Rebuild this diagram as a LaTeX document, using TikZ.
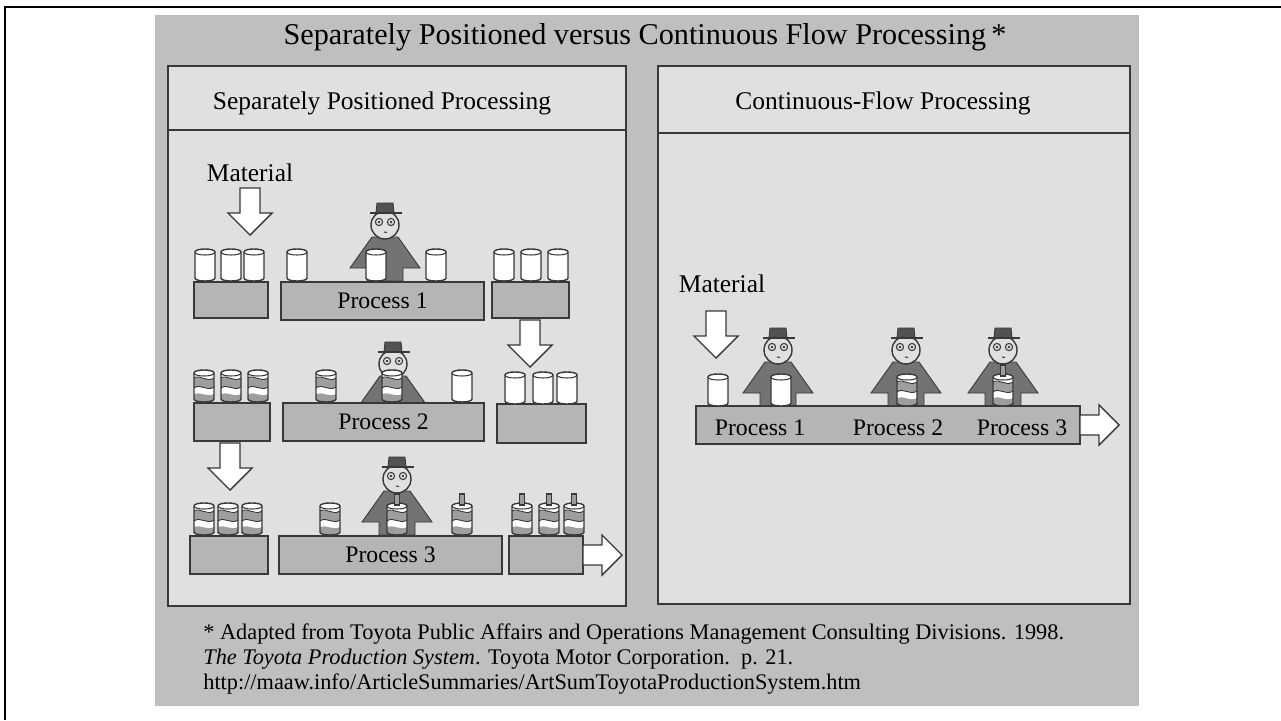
\documentclass[tikz,border=0pt]{standalone}
\usepackage{fontspec}
\setmainfont{Liberation Serif}
\usetikzlibrary{positioning, calc}

\definecolor{panelgray}{gray}{0.75}
\definecolor{lightgray}{gray}{0.88}
\definecolor{benchgray}{gray}{0.71}
\definecolor{edgegray}{gray}{0.22}
\definecolor{coatgray}{gray}{0.45}
\definecolor{hatgray}{gray}{0.32}
\definecolor{bandgray}{gray}{0.62}

% outline of a can, origin at the middle of its base
\newcommand\canoutline{(-10,-3) -- (-10,-29) .. controls (-10,-33) and (10,-33) .. (10,-29) -- (10,-3) .. controls (10,1) and (-10,1) .. (-10,-3) -- cycle}

\tikzset{
  bench/.style={fill=benchgray, draw=edgegray, line width=1pt},
  frame/.style={fill=lightgray, draw=edgegray, line width=1.3pt},
  blockarrow/.style={fill=white, draw=edgegray, line width=0.8pt, line join=miter},
  heading/.style={font=\fontsize{14.5}{16}\selectfont},
  proc/.style={font=\fontsize{13.5}{15}\selectfont},
  note/.style={font=\fontsize{12.7}{14}\selectfont, anchor=base west, inner sep=0pt},
  % raw can
  pics/plaincan/.style={code={
    \path[fill=white, draw=edgegray, line width=0.8pt] \canoutline;
    \draw[edgegray, line width=0.6pt] (-10,-29) .. controls (-10,-25) and (10,-25) .. (10,-29);
  }},
  % can after process 2 (wavy bands)
  pics/wavecan/.style={code={
    \path[fill=white] \canoutline;
    \begin{scope}
      \clip \canoutline;
      \fill[bandgray] (-10,-24) .. controls (-4,-28) and (3,-19) .. (10,-24)
        -- (10,-15) .. controls (3,-10) and (-4,-19) .. (-10,-14) -- cycle;
      \fill[bandgray] (-10,-8) .. controls (-4,-11) and (3,-4) .. (10,-8)
        -- (10,2) -- (-10,2) -- cycle;
    \end{scope}
    \draw[edgegray, line width=0.5pt] (-10,-24) .. controls (-4,-28) and (3,-19) .. (10,-24);
    \draw[edgegray, line width=0.5pt] (-10,-14) .. controls (-4,-19) and (3,-10) .. (10,-15);
    \path[draw=edgegray, line width=0.8pt] \canoutline;
    \draw[edgegray, line width=0.6pt] (-10,-29) .. controls (-10,-25) and (10,-25) .. (10,-29);
  }},
  % finished can (process 3 adds the stem)
  pics/donecan/.style={code={
    \pic {wavecan};
    \draw[fill=bandgray, draw=edgegray, line width=0.7pt] (-2.5,-30) rectangle (2.5,-41);
  }},
  % operator standing behind the bench, origin at the bench top
  pics/worker/.style={code={
    \fill[coatgray, draw=edgegray, line width=0.5pt] (-13,-44) -- (13,-44) -- (35,-13) -- (18,-13)
      -- (18,0) -- (-18,0) -- (-18,-13) -- (-35,-13) -- cycle;
    \draw[fill=lightgray, draw=edgegray, line width=0.8pt] (0,-56) circle (14);
    \draw[edgegray, line width=0.6pt] (-6,-59) circle (3.6) (6,-59) circle (3.6);
    \fill[edgegray] (-6,-59) circle (1.3) (6,-59) circle (1.3);
    \draw[edgegray, line width=0.6pt] (-1,-49) -- (2,-48.5);
    % hat
    \draw[fill=hatgray, draw=edgegray, line width=0.5pt] (-9,-68) -- (-8,-78) -- (8,-78) -- (9,-68) -- cycle;
    \draw[edgegray, line width=1.6pt] (-15,-68) -- (17,-68);
  }},
  % hollow arrow pointing down, origin at the tail
  pics/downarrow/.style={code={
    \draw[blockarrow] (-10,0) -- (10,0) -- (10,25) -- (22,25) -- (0,47) -- (-22,25) -- (-10,25) -- cycle;
  }},
  % hollow arrow pointing right, origin at the tail
  pics/rightarrow/.style={code={
    \draw[blockarrow] (0,-10) -- (19,-10) -- (19,-20) -- (39,0) -- (19,20) -- (19,10) -- (0,10) -- cycle;
  }}
}

\begin{document}
\begin{tikzpicture}[x=0.02cm, y=-0.02cm]
  \useasboundingbox (0,0) rectangle (1281,720);
  \fill[white] (0,0) rectangle (1281,720);

  % outer frame
  \draw[line width=1.7pt] (5,720) -- (5,7) -- (1281,7);

  % backing panel and title
  \fill[panelgray] (155,15) rectangle (1139,706);
  \node[font=\fontsize{17.2}{19}\selectfont] (title) at (645,37)
    {Separately Positioned versus Continuous Flow Processing\,*};

  % the two halves
  \draw[frame] (168,66) rectangle (626,606);
  \draw[edgegray, line width=1.3pt] (168,130) -- (626,130);
  \node[heading] (leftHead) at (382,103) {Separately Positioned Processing};

  \draw[frame] (658,66) rectangle (1130,604);
  \draw[edgegray, line width=1.3pt] (658,133) -- (1130,133);
  \node[heading] (rightHead) at (883,103) {Continuous-Flow Processing};

  %%% separately positioned processing
  \node[heading] (matLeft) at (250,173) {Material};
  \pic at (250,188) {downarrow};

  % row 1
  \pic at (385,281) {worker};
  \draw[bench] (194,282) rectangle (268,318);
  \draw[bench] (281,282) rectangle (484,320) node[midway, proc] (procA) {Process 1};
  \draw[bench] (492,282) rectangle (569,318);
  \foreach \x in {205,231,254,297,436,504,531,558}
    \pic at (\x,281) {plaincan};
  \pic at (376,281) {plaincan};
  \pic at (530,320) {downarrow};

  % row 2
  \pic at (393,420) {worker};
  \draw[bench] (194,403) rectangle (270,441);
  \draw[bench] (283,403) rectangle (484,441) node[midway, proc] (procB) {Process 2};
  \draw[bench] (497,404) rectangle (586,443);
  \foreach \x in {204,231,258,326,392}
    \pic at (\x,402) {wavecan};
  \pic at (462,402) {plaincan};
  \foreach \x in {515,543,567}
    \pic at (\x,404) {plaincan};
  \pic at (230,443) {downarrow};

  % row 3
  \pic at (397,535) {worker};
  \draw[bench] (190,536) rectangle (268,574);
  \draw[bench] (279,536) rectangle (502,574) node[midway, proc] (procC) {Process 3};
  \draw[bench] (509,536) rectangle (583,574);
  \foreach \x in {204,228,252,330}
    \pic at (\x,535) {wavecan};
  \foreach \x in {397,462,522,549,574}
    \pic at (\x,535) {donecan};
  \pic at (583,555) {rightarrow};

  %%% continuous-flow processing
  \node[heading] (matRight) at (722,284) {Material};
  \pic at (716,311) {downarrow};

  \foreach \x in {778,906,1003}
    \pic at (\x,406) {worker};
  \draw[bench] (696,406) rectangle (1080,444);
  \pic at (1080,425) {rightarrow};
  \pic at (718,406) {plaincan};
  \pic at (781,406) {plaincan};
  \pic at (907,406) {wavecan};
  \pic at (1003,406) {donecan};
  \node[proc] (flowA) at (760,428) {Process 1};
  \node[proc] (flowB) at (898,428) {Process 2};
  \node[proc] (flowC) at (1022,428) {Process 3};

  % source note
  \node[note] (src1) at (203,639) {* Adapted from Toyota Public Affairs and Operations Management Consulting Divisions. 1998.};
  \node[note] (src2) at (203,664) {\textit{The Toyota Production System}. Toyota Motor Corporation.\ \ p. 21.};
  \node[note] (src3) at (203,689) {http://maaw.info/ArticleSummaries/ArtSumToyotaProductionSystem.htm};
\end{tikzpicture}
\end{document}
